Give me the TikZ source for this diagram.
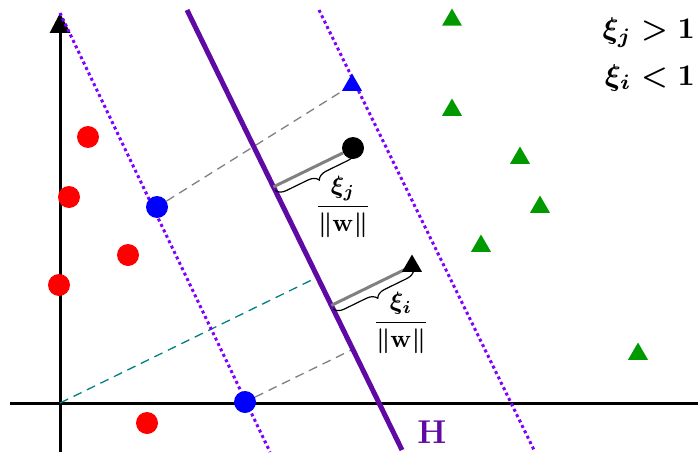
\documentclass[tikz,border=0pt]{standalone}
\usepackage{amsmath,bm,graphicx}
\usetikzlibrary{calc,decorations.pathreplacing,arrows.meta,shapes.geometric}
\pgfdeclarelayer{background}
\pgfsetlayers{background,main}
\definecolor{hcol}{RGB}{95,10,165}
\definecolor{mcol}{RGB}{128,0,255}
\definecolor{gcol}{RGB}{0,153,0}
\definecolor{tcol}{RGB}{0,128,128}
\newcommand{\fracmath}[1]{\scalebox{2.5}{\boldmath$#1$}}
\newcommand{\condmath}[1]{\scalebox{3.0}{\boldmath$#1$}}
\tikzset{
  ptcirc/.style={circle,inner sep=0pt,minimum size=22pt},
  pttri/.style={regular polygon,regular polygon sides=3,inner sep=0pt,minimum size=23pt},
  axisline/.style={line width=3pt,black},
  marginline/.style={mcol,line width=3pt,dash pattern=on 3pt off 3pt},
  hline/.style={hcol,line width=5pt},
  proj/.style={gray,line width=1.3pt,dash pattern=on 9pt off 6pt},
  tproj/.style={tcol,line width=1.3pt,dash pattern=on 9pt off 6pt},
  slack/.style={gray,line width=3pt},
  slackbrace/.style={black,line width=1.2pt,decorate,decoration={brace,amplitude=10pt,raise=4pt,mirror}},
  lbl/.style={inner sep=0pt}
}
\begin{document}
\begin{tikzpicture}[x=1pt,y=-1pt]
\useasboundingbox (0,0) rectangle (698,452);
% frame coordinates
\coordinate (O) at (60,403);
\coordinate (Xl) at (10,403);
\coordinate (Xr) at (698,403);
\coordinate (Yb) at (60,452);
\coordinate (Yt) at (60,13);
\coordinate (Ht) at (187,10);
\coordinate (Hb) at (402,450);
\coordinate (Lt) at (60,13);
\coordinate (Lb) at (270,452);
\coordinate (Rt) at (319,10);
\coordinate (Rb) at (535,452);
% points
\node[ptcirc,fill=red] (r1) at (88,137) {};
\node[ptcirc,fill=red] (r2) at (69,197) {};
\node[ptcirc,fill=red] (r3) at (128,255) {};
\node[ptcirc,fill=red] (r4) at (59,285) {};
\node[ptcirc,fill=red] (r5) at (147,423) {};
\node[ptcirc,fill=blue] (b1) at (157,207) {};
\node[ptcirc,fill=blue] (b2) at (245,402) {};
\node[ptcirc,fill=black] (k) at (353,148) {};
\node[pttri,fill=blue] (bt) at (352,85) {};
\node[pttri,fill=black] (kt) at (412,266) {};
\node[pttri,fill=gcol] (g1) at (452,20) {};
\node[pttri,fill=gcol] (g2) at (452,110) {};
\node[pttri,fill=gcol] (g3) at (520,158) {};
\node[pttri,fill=gcol] (g4) at (540,207) {};
\node[pttri,fill=gcol] (g5) at (481,246) {};
\node[pttri,fill=gcol] (g6) at (638,354) {};
% feet on H
\coordinate (fO) at ($(Ht)!(O)!(Hb)$);
\coordinate (fb) at ($(Ht)!(b2)!(Hb)$);
\coordinate (fj) at ($(Ht)!(k)!(Hb)$);
\coordinate (fi) at ($(Ht)!(kt.center)!(Hb)$);
\begin{pgfonlayer}{background}
% axes
\draw[axisline] (Xl) -- (Xr);
\draw[axisline,-{Triangle[width=20pt,length=20pt]}] (Yb) -- (Yt);
% projections
\draw[tproj] (O) -- (fO);
\draw[proj] (b2) -- (fb);
\draw[proj] (b1) -- (bt);
% margins and hyperplane
\draw[marginline] (Lt) -- (Lb);
\draw[marginline] (Rt) -- (Rb);
\draw[hline] (Ht) -- (Hb);
% slacks
\draw[slack] (fj) -- (k);
\draw[slack] (fi) -- (kt.center);
\end{pgfonlayer}
\draw[slackbrace] (fj) -- (k.center);
\draw[slackbrace] (fi) -- (kt.center);
% labels
\node[lbl] (lj) at (343,207) {\fracmath{\dfrac{\xi_j}{\|\mathbf{w}\|}}};
\node[lbl] (li) at (401,323) {\fracmath{\dfrac{\xi_i}{\|\mathbf{w}\|}}};
\node[lbl,anchor=base east] (c1) at (695,39) {\condmath{\xi_j > 1}};
\node[lbl,anchor=base east] (c2) at (695,85) {\condmath{\xi_i < 1}};
\node[inner sep=0pt,text=hcol,font=\fontsize{33}{36}\selectfont\bfseries] (hl) at (432,432) {H};
\end{tikzpicture}
\end{document}
